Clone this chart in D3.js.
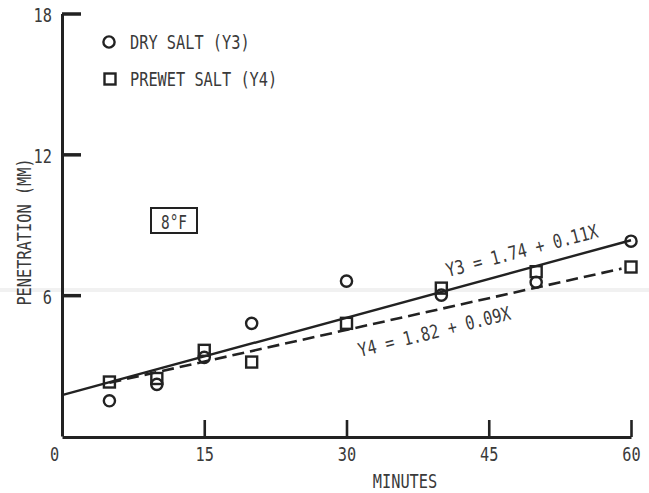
<!DOCTYPE html>
<html>
<head>
<meta charset="utf-8">
<script src="https://cdn.jsdelivr.net/npm/d3@7"></script>
<style>
  html, body { margin: 0; padding: 0; background: #fff; }
  svg { display: block; }
  text { font-family: "DejaVu Sans Mono", monospace; fill: #3a3a3a; }
</style>
</head>
<body>
<svg id="chart" width="649" height="493"></svg>
<script>
// Penetration (mm) versus time (minutes) at 8°F
const minutes = [5, 10, 15, 20, 30, 40, 50, 60];
const drySalt = [1.5, 2.2, 3.35, 4.8, 6.6, 6.0, 6.55, 8.3];      // Y3
const prewetSalt = [2.3, 2.45, 3.65, 3.15, 4.8, 6.3, 7.0, 7.2];  // Y4

// Fitted lines: Y = a + b·X
const fitY3 = { a: 1.74, b: 0.11, from: 0, to: 60 };
const fitY4 = { a: 1.82, b: 0.09, from: 5, to: 59 };

const xTicks = [0, 15, 30, 45, 60];
const yTicks = [6, 12, 18];

const xTitle = "MINUTES";
const yTitle = "PENETRATION (MM)";
const legendLabels = ["DRY SALT (Y3)", "PREWET SALT (Y4)"];
const tempLabel = "8°F";
const eqY3 = "Y3 = 1.74 + 0.11X";
const eqY4 = "Y4 = 1.82 + 0.09X";

const FS = 19;        // font size
const CW = 9.2;       // condensed character advance
const ink = "#222";

const svg = d3.select("#chart");

const x = d3.scaleLinear().domain([0, 60]).range([62, 631]);
const y = d3.scaleLinear().domain([0, 18]).range([436, 13.5]);

// faint scan streak across the sheet
svg.append("rect")
  .attr("x", 0).attr("y", 288).attr("width", 649).attr("height", 4)
  .attr("fill", "#f1f1f1");

function fitText(sel, s) {
  sel.text(s)
    .attr("font-size", FS)
    .attr("textLength", s.length * CW)
    .attr("lengthAdjust", "spacingAndGlyphs");
  return sel;
}

// x axis
const gx = svg.append("g")
  .attr("transform", `translate(0,${y(0) + 1})`)
  .call(d3.axisBottom(x).tickValues(xTicks).tickSize(-17).tickSizeOuter(0).tickPadding(11));
gx.select(".domain").attr("stroke", ink).attr("stroke-width", 3);
gx.selectAll(".tick line").attr("stroke", ink).attr("stroke-width", 2.6);
gx.selectAll(".tick").filter(d => d === 0).select("line").remove();
gx.selectAll(".tick text").each(function(d) {
  const t = d3.select(this);
  fitText(t, String(d)).attr("fill", "#3a3a3a");
  if (d === 0) t.attr("x", -8);
});

// y axis
const gy = svg.append("g")
  .attr("transform", `translate(${x(0)},0)`)
  .call(d3.axisLeft(y).tickValues(yTicks).tickSize(-19).tickSizeOuter(0).tickPadding(10));
gy.select(".domain").attr("stroke", ink).attr("stroke-width", 3);
gy.selectAll(".tick line").attr("stroke", ink).attr("stroke-width", 3.5);
gy.selectAll(".tick text").each(function(d) {
  fitText(d3.select(this), String(d)).attr("dy", "0.42em").attr("fill", "#3a3a3a");
});
svg.selectAll(".tick text").attr("font-family", "DejaVu Sans Mono, monospace");

// axis titles
fitText(svg.append("text"), xTitle)
  .attr("x", 405).attr("y", 488).attr("text-anchor", "middle");
fitText(svg.append("text"), yTitle)
  .attr("transform", "translate(31,232) rotate(-90)")
  .attr("text-anchor", "middle");

// regression lines
const fitLine = f => d3.line()([f.from, f.to].map(m => [x(m), y(f.a + f.b * m)]));
svg.append("path").attr("d", fitLine(fitY3))
  .attr("fill", "none").attr("stroke", ink).attr("stroke-width", 2.4);
svg.append("path").attr("d", fitLine(fitY4))
  .attr("fill", "none").attr("stroke", ink).attr("stroke-width", 2.6)
  .attr("stroke-dasharray", "12,6");

// markers
const dry = minutes.map((m, i) => ({ m, v: drySalt[i] }));
const wet = minutes.map((m, i) => ({ m, v: prewetSalt[i] }));

svg.append("g").selectAll("circle").data(dry).join("circle")
  .attr("cx", d => x(d.m)).attr("cy", d => y(d.v)).attr("r", 5.6)
  .attr("fill", "none").attr("stroke", ink).attr("stroke-width", 2.4);

const S = 11;
svg.append("g").selectAll("rect").data(wet).join("rect")
  .attr("x", d => x(d.m) - S / 2).attr("y", d => y(d.v) - S / 2)
  .attr("width", S).attr("height", S)
  .attr("fill", "none").attr("stroke", ink).attr("stroke-width", 2.4);

// legend
svg.append("circle").attr("cx", 109).attr("cy", 42).attr("r", 5.6)
  .attr("fill", "none").attr("stroke", ink).attr("stroke-width", 2.4);
fitText(svg.append("text"), legendLabels[0]).attr("x", 130).attr("y", 49);
svg.append("rect").attr("x", 110 - S / 2).attr("y", 79 - S / 2).attr("width", S).attr("height", S)
  .attr("fill", "none").attr("stroke", ink).attr("stroke-width", 2.4);
fitText(svg.append("text"), legendLabels[1]).attr("x", 130).attr("y", 86);

// temperature tag
svg.append("rect").attr("x", 151).attr("y", 208).attr("width", 46).attr("height", 25)
  .attr("fill", "none").attr("stroke", ink).attr("stroke-width", 2);
fitText(svg.append("text"), tempLabel)
  .attr("x", 174).attr("y", 229).attr("text-anchor", "middle").attr("textLength", 26);

// equation labels along the fitted lines
fitText(svg.append("text"), eqY3)
  .attr("transform", "translate(448,277) rotate(-14.8)");
fitText(svg.append("text"), eqY4)
  .attr("transform", "translate(360,357) rotate(-14)");
</script>
</body>
</html>
